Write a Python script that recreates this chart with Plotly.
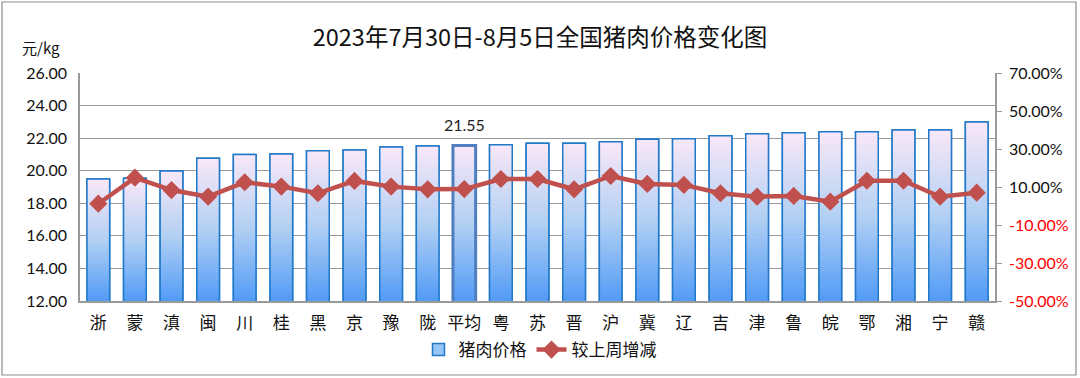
import plotly.graph_objects as go

# ---------------- data ----------------
categories = ["浙", "蒙", "滇", "闽", "川", "桂", "黑", "京", "豫", "陇", "平均", "粤", "苏",
              "晋", "沪", "冀", "辽", "吉", "津", "鲁", "皖", "鄂", "湘", "宁", "赣"]
price = [19.49, 19.53, 19.98, 20.76, 21.00, 21.02, 21.23, 21.27, 21.45, 21.52, 21.55, 21.60, 21.68,
         21.68, 21.78, 21.93, 21.96, 22.15, 22.27, 22.33, 22.39, 22.39, 22.50, 22.50, 22.99]
change_pct = [1.2, 14.9, 8.4, 4.9, 12.5, 10.2, 6.7, 13.2, 10.2, 8.8, 8.9, 14.2, 14.2,
              8.8, 15.8, 11.6, 11.1, 6.7, 4.9, 5.3, 2.3, 13.3, 13.3, 4.9, 7.0]
left_ticks = [12, 14, 16, 18, 20, 22, 24, 26]
right_ticks = [-50, -30, -10, 10, 30, 50, 70]
avg_label = "平均"

# ---------------- style ----------------
L, R, T, B = 80, 85, 73, 77
W, H = 1080, 378
PW, PH = W - L - R, H - T - B
Y0 = 12
NB = 40

def px2paper_x(px):
    return (px - L) / PW

def px2paper_y(py):
    return (H - B - py) / PH

def lerp(c1, c2, t):
    return tuple(round(a + (b - a) * t) for a, b in zip(c1, c2))

top_c = (248, 231, 248)
mid_c = (178, 208, 243)
bot_c = (84, 156, 246)

def grad(t):
    if t < 0.5:
        c = lerp(top_c, mid_c, t / 0.5)
    else:
        c = lerp(mid_c, bot_c, (t - 0.5) / 0.5)
    return "rgb(%d,%d,%d)" % c

fig = go.Figure()

# legend / base bar
fig.add_trace(go.Bar(x=categories, y=price, name="猪肉价格",
                     marker=dict(color="rgb(150,196,245)", line=dict(color="#1f78c8", width=1.5)),
                     showlegend=True, hoverinfo="skip"))
# gradient bands
for k in range(NB):
    f = 1 - k / NB
    ys = [Y0 + (v - Y0) * f for v in price]
    fig.add_trace(go.Bar(x=categories, y=ys, marker=dict(color=grad(k / (NB - 1)), line=dict(width=0)),
                         showlegend=False, hoverinfo="skip"))
# outlines
line_cols = ["#4f7fbf" if c == avg_label else "#1f78c8" for c in categories]
line_w = [3 if c == avg_label else 1.5 for c in categories]
fig.add_trace(go.Bar(x=categories, y=price, marker=dict(color="rgba(0,0,0,0)",
                     line=dict(color=line_cols, width=line_w)),
                     showlegend=False, hoverinfo="skip"))

fig.add_trace(go.Scatter(x=categories, y=change_pct, yaxis="y2", name="较上周增减",
                         mode="lines+markers",
                         line=dict(color="#c0504d", width=4.5),
                         marker=dict(symbol="diamond", size=14, color="#c0504d")))

avg_i = categories.index(avg_label)

right_text = []
for v in right_ticks:
    s = "%.2f%%" % v
    if v < 0:
        s = '<span style="color:#ff0000">%s</span>' % s
    right_text.append(s)

num_font = dict(family="Lato, Liberation Sans, sans-serif", size=16, color="#111")

fig.update_layout(
    width=W, height=H,
    margin=dict(l=L, r=R, t=T, b=B, autoexpand=False),
    paper_bgcolor="white", plot_bgcolor="white",
    barmode="overlay", bargap=0.38,
    title=dict(text="2023年7月30日-8月5日全国猪肉价格变化图", x=0.5, xanchor="center",
               y=1 - 38 / H, yanchor="middle",
               font=dict(family="Noto Sans CJK SC", size=23.5, color="#111")),
    xaxis=dict(tickfont=dict(family="Noto Sans CJK SC", size=17, color="#111"),
               range=[-0.5, len(categories) - 0.5],
               showline=True, linecolor="#9a9a9a", linewidth=1.5, ticks="", showgrid=False,
               automargin=False, ticklabelstandoff=6),
    yaxis=dict(range=[12, 26], tickvals=left_ticks, ticktext=["%.2f" % v for v in left_ticks],
               tickfont=num_font, showgrid=True, gridcolor="#9a9a9a", gridwidth=1.2,
               showline=True, linecolor="#9a9a9a", linewidth=1.5, ticks="", zeroline=False,
               automargin=False, ticklabelstandoff=8),
    yaxis2=dict(range=[-50, 70], overlaying="y", side="right", tickvals=right_ticks,
                ticktext=right_text, tickfont=num_font, showgrid=False, zeroline=False,
                showline=True, linecolor="#9a9a9a", linewidth=1.5, ticks="outside",
                ticklen=5, tickcolor="#9a9a9a", automargin=False, ticklabelstandoff=4),
    legend=dict(orientation="h", x=px2paper_x(540), xanchor="center", y=px2paper_y(350),
                yanchor="middle", font=dict(family="Noto Sans CJK SC", size=17, color="#111"),
                bgcolor="rgba(0,0,0,0)", traceorder="normal"),
    showlegend=True,
    annotations=[dict(text="元/kg", xref="paper", yref="paper", x=px2paper_x(41),
                      y=px2paper_y(47), showarrow=False, xanchor="center", yanchor="middle",
                      font=dict(family="Noto Sans CJK SC", size=15, color="#111")),
                 dict(text="%.2f" % price[avg_i], x=categories[avg_i], y=price[avg_i],
                      xref="x", yref="y", showarrow=False, yanchor="bottom", yshift=9,
                      font=dict(family="Lato, Liberation Sans", size=16, color="#222"))],
    shapes=[dict(type="rect", xref="paper", yref="paper",
                 x0=px2paper_x(2), x1=px2paper_x(1076), y0=px2paper_y(375), y1=px2paper_y(2),
                 line=dict(color="#8c8c8c", width=1.2), fillcolor="rgba(0,0,0,0)", layer="below")],
)

fig.write_html("out.html", post_script="document.body.style.margin='0';",
               config={"displayModeBar": False})
